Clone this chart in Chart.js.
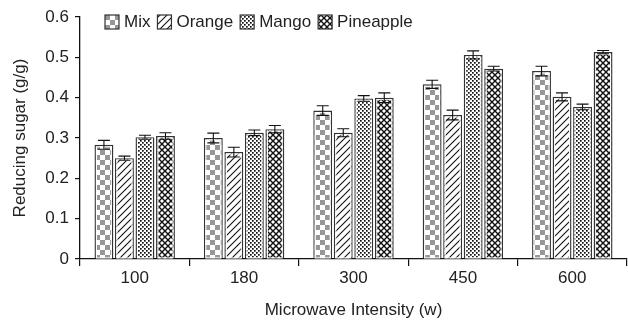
<!DOCTYPE html>
<html>
<head>
<meta charset="utf-8">
<script src="https://cdn.jsdelivr.net/npm/chart.js@4.4.1/dist/chart.umd.min.js"></script>
<style>
  html, body { margin: 0; padding: 0; background: #fff; }
  #wrap { width: 628px; height: 320px; }
</style>
</head>
<body>
<div id="wrap"><canvas id="sugarChart" width="628" height="320"></canvas></div>
<script>
// values
const intensities = ['100', '180', '300', '450', '600'];
const seriesNames = ['Mix', 'Orange', 'Mango', 'Pineapple'];
const mixVals = [0.283, 0.300, 0.368, 0.433, 0.466];
const orangeVals = [0.250, 0.265, 0.313, 0.357, 0.402];
const mangoVals = [0.302, 0.313, 0.398, 0.506, 0.377];
const pineVals = [0.305, 0.322, 0.400, 0.472, 0.513];
const mixErr = [0.011, 0.012, 0.012, 0.010, 0.012];
const orangeErr = [0.005, 0.012, 0.010, 0.012, 0.010];
const mangoErr = [0.005, 0.007, 0.007, 0.010, 0.007];
const pineErr = [0.008, 0.009, 0.012, 0.006, 0.004];
const yTickLabels = ['0', '0.1', '0.2', '0.3', '0.4', '0.5', '0.6'];

const FONT = "'Liberation Sans', Arial, sans-serif";

function makePattern(size, draw) {
    const c = document.createElement('canvas');
    c.width = size; c.height = size;
    const g = c.getContext('2d');
    g.fillStyle = '#fff';
    g.fillRect(0, 0, size, size);
    draw(g, size);
    return document.createElement('canvas').getContext('2d').createPattern(c, 'repeat');
}

// hatch fills
const checkFill = makePattern(10, (g) => {
    g.fillStyle = '#979797';
    g.fillRect(0, 0, 5, 5);
    g.fillRect(5, 5, 5, 5);
});
const slashFill = makePattern(7, (g, s) => {
    g.strokeStyle = '#111';
    g.lineWidth = 1.1;
    g.beginPath();
    g.moveTo(-1, s + 1); g.lineTo(s + 1, -1);
    g.moveTo(-1, 1); g.lineTo(1, -1);
    g.moveTo(s - 1, s + 1); g.lineTo(s + 1, s - 1);
    g.stroke();
});
const dotFill = makePattern(4, (g) => {
    g.fillStyle = '#111';
    g.fillRect(0, 0, 1.7, 1.7);
    g.fillRect(2, 2, 1.7, 1.7);
});
const crossFill = makePattern(6, (g, s) => {
    g.strokeStyle = '#111';
    g.lineWidth = 1.4;
    g.beginPath();
    g.moveTo(0, 0); g.lineTo(s, s);
    g.moveTo(0, s); g.lineTo(s, 0);
    g.stroke();
});

const fills = [checkFill, slashFill, dotFill, crossFill];
const values = [mixVals, orangeVals, mangoVals, pineVals];
const errors = [mixErr, orangeErr, mangoErr, pineErr];

const errorBars = {
    id: 'errorBars',
    afterDatasetsDraw(chart) {
        const ctx = chart.ctx;
        const yScale = chart.scales.y;
        ctx.save();
        chart.data.datasets.forEach((ds, di) => {
            const meta = chart.getDatasetMeta(di);
            meta.data.forEach((bar, i) => {
                // white inner outline, like the double edge of the printed bars
                const w = bar.width;
                ctx.strokeStyle = '#fff';
                ctx.lineWidth = 1;
                ctx.strokeRect(bar.x - w / 2 + 2, bar.y + 2, w - 4, bar.base - bar.y - 2.5);

                const v = ds.data[i];
                const e = ds.errors[i];
                const yTop = yScale.getPixelForValue(v + e);
                const yBot = yScale.getPixelForValue(v - e);
                const x = bar.x;
                const half = 6;
                ctx.strokeStyle = '#111';
                ctx.lineWidth = 1.1;
                ctx.beginPath();
                ctx.moveTo(x, yTop); ctx.lineTo(x, yBot);
                ctx.moveTo(x - half, yTop); ctx.lineTo(x + half, yTop);
                ctx.moveTo(x - half, yBot); ctx.lineTo(x + half, yBot);
                ctx.stroke();
            });
        });
        ctx.restore();
    }
};

const topLegend = {
    id: 'topLegend',
    afterDraw(chart) {
        const ctx = chart.ctx;
        ctx.save();
        ctx.font = '17px ' + FONT;
        ctx.textBaseline = 'middle';
        let x = 105;
        const yMid = 22;
        chart.data.datasets.forEach((ds) => {
            ctx.fillStyle = ds.backgroundColor;
            ctx.fillRect(x, yMid - 7, 14, 14);
            ctx.strokeStyle = '#333';
            ctx.lineWidth = 1.2;
            ctx.strokeRect(x, yMid - 7, 14, 14);
            x += 19;
            ctx.fillStyle = '#222';
            ctx.fillText(ds.label, x, yMid);
            x += ctx.measureText(ds.label).width + 7;
        });
        ctx.restore();
    }
};

const ctx = document.getElementById('sugarChart').getContext('2d');
new Chart(ctx, {
    type: 'bar',
    data: {
        labels: intensities,
        datasets: seriesNames.map((name, i) => ({
            label: name,
            data: values[i],
            errors: errors[i],
            backgroundColor: fills[i],
            borderColor: '#333',
            borderWidth: 1.4,
            categoryPercentage: 0.75,
            barPercentage: 0.92
        }))
    },
    options: {
        responsive: false,
        animation: false,
        layout: { padding: { top: 17, right: 1, left: 0, bottom: 0 } },
        plugins: {
            legend: { display: false },
            tooltip: { enabled: false }
        },
        scales: {
            x: {
                grid: { offset: true, drawOnChartArea: false, drawTicks: true, tickLength: 7, color: '#111', lineWidth: 1.2 },
                border: { display: true, color: '#111', width: 1.3 },
                ticks: { color: '#222', font: { family: FONT, size: 17 }, padding: 2 },
                title: { display: true, text: 'Microwave Intensity (w)', color: '#222', font: { family: FONT, size: 17, lineHeight: 1 }, padding: { top: 0, bottom: 1 } },
                afterFit(scale) { scale.height = 61; }
            },
            y: {
                min: 0,
                max: 0.6,
                ticks: {
                    stepSize: 0.1,
                    color: '#222',
                    font: { family: FONT, size: 17 },
                    padding: 6,
                    callback: (v, i) => yTickLabels[i]
                },
                grid: { drawOnChartArea: false, drawTicks: true, tickLength: 5, color: '#111', lineWidth: 1.2 },
                border: { display: true, color: '#111', width: 1.3 },
                title: { display: true, text: 'Reducing sugar (g/g)', color: '#222', font: { family: FONT, size: 17, lineHeight: 1 }, padding: { top: 11.5, bottom: 0 } },
                afterFit(scale) { scale.width = 80; }
            }
        }
    },
    plugins: [errorBars, topLegend]
});
</script>
</body>
</html>
